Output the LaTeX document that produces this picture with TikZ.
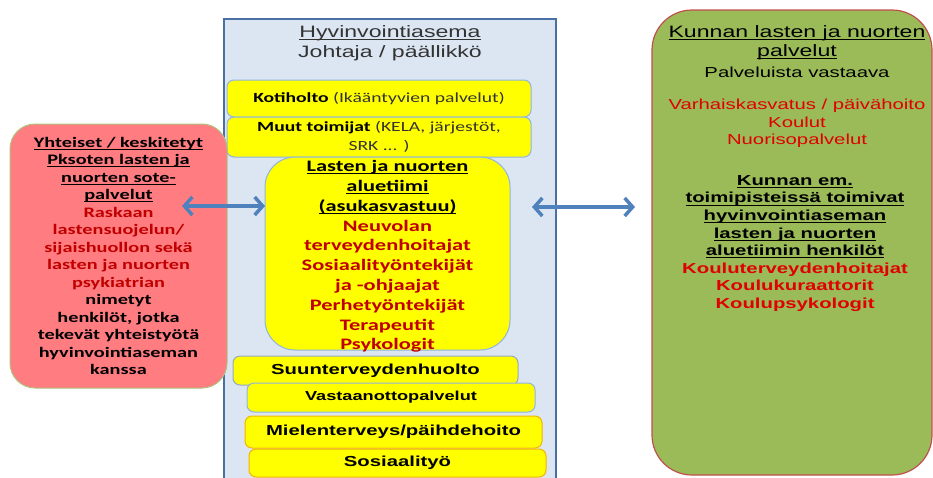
\documentclass[tikz,border=0pt]{standalone}
\usepackage{fontspec}
\setmainfont{Liberation Sans}[FakeStretch=1.4]
\newfontfamily\calfont{Carlito}[FakeStretch=1.4]
\usetikzlibrary{arrows.meta}
\definecolor{boxblue}{HTML}{DCE6F2}
\definecolor{boxblueline}{HTML}{4A6FA5}
\definecolor{pinkfill}{HTML}{FF7C80}
\definecolor{pinkline}{HTML}{AFC27E}
\definecolor{greenfill}{HTML}{9BBB59}
\definecolor{greenline}{HTML}{C0504D}
\definecolor{ylw}{HTML}{FFFF00}
\definecolor{ylwblue}{HTML}{8DB4E2}
\definecolor{ylwgray}{HTML}{95A8C0}
\definecolor{ylworange}{HTML}{F5B400}
\definecolor{txtred}{HTML}{C00000}
\definecolor{txtbright}{HTML}{E00000}
\definecolor{arrowblue}{HTML}{4F81BD}
\definecolor{txtgray}{HTML}{333333}
\newcommand{\rd}[1]{\textcolor{txtred}{#1}}
\newcommand{\brd}[1]{\textcolor{txtbright}{#1}}
\newcommand{\uln}[1]{\setbox0\hbox{#1}\rlap{\rule[-2.3pt]{\wd0}{0.65pt}}\box0}
\begin{document}
\begin{tikzpicture}[x=1pt,y=-1pt,
  panel/.style={rectangle, inner sep=0pt, outer sep=0pt, align=center},
  ybox/.style={panel, fill=ylw, rounded corners=7pt, line width=1pt},
  txt/.style={inner sep=0pt, outer sep=0pt, align=center},
  biarrow/.style={draw=arrowblue, line width=3.5pt,
    {Straight Barb[length=8pt,width=18pt]}-{Straight Barb[length=8pt,width=18pt]}}
]
\useasboundingbox (0,0) rectangle (933,477);

% main station box
\node[panel, draw=boxblueline, fill=boxblue, line width=1.5pt,
  minimum width=332pt, minimum height=471pt] (asema) at (390,254.5) {};
\node[txt, text=txtgray, font=\fontsize{16.5}{20}\selectfont] (otsikko) at (390,43.5)
  {\uln{Hyvinvointiasema}\\ Johtaja / päällikkö};

% yellow boxes
\node[ybox, draw=ylwblue, minimum width=304pt, minimum height=37pt,
  font=\calfont\fontsize{14}{19}\selectfont] (koti) at (379,98.5)
  {\textbf{Kotiholto} \textcolor{black!80}{(Ikääntyvien palvelut)}};
\node[ybox, draw=ylwblue, minimum width=304pt, minimum height=40pt,
  font=\calfont\fontsize{14}{19}\selectfont] (muut) at (379,137)
  {\textbf{Muut toimijat} \textcolor{black!80}{(KELA, järjestöt,}\\ \textcolor{black!80}{SRK ... )}};
\node[ybox, draw=ylwblue, rounded corners=30pt, minimum width=245pt, minimum height=193pt] (tiimi) at (387.5,253.5) {};
\node[txt, font=\calfont\bfseries\fontsize{16}{19.8}\selectfont] (tiimiteksti) at (387.5,256.5)
  {\uln{Lasten ja nuorten}\\ \uln{aluetiimi}\\ \uln{(asukasvastuu)}\\
   \rd{Neuvolan}\\ \rd{terveydenhoitajat}\\ \rd{Sosiaalityöntekijät}\\ \rd{ja -ohjaajat}\\
   \rd{Perhetyöntekijät}\\ \rd{Terapeutit}\\ \rd{Psykologit}};

\node[ybox, draw=ylwgray, minimum width=285pt, minimum height=29pt,
  font=\bfseries\fontsize{14.5}{17}\selectfont] (suun) at (375.5,370.5) {Suunterveydenhuolto};
\node[ybox, draw=ylwblue, minimum width=288pt, minimum height=29pt,
  font=\bfseries\fontsize{13}{16}\selectfont] (vasta) at (391,397.5) {Vastaanottopalvelut};
\node[ybox, draw=ylworange, minimum width=297pt, minimum height=32pt,
  font=\bfseries\fontsize{14.5}{17}\selectfont] (mielen) at (393.5,432) {Mielenterveys/päihdehoito};
\node[ybox, draw=ylworange, minimum width=297pt, minimum height=28pt,
  font=\bfseries\fontsize{14.5}{17}\selectfont] (sosiaali) at (397.5,463) {Sosiaalityö};

% left pink box
\node[panel, draw=pinkline, fill=pinkfill, line width=1pt, rounded corners=25pt,
  minimum width=217pt, minimum height=264pt,
  font=\calfont\bfseries\fontsize{14.5}{17.5}\selectfont] (yhteiset) at (118.5,256)
  {\uln{Yhteiset / keskitetyt}\\ \uln{Pksoten lasten ja}\\ \uln{nuorten sote-}\\ \uln{palvelut}\\
   \rd{Raskaan}\\ \rd{lastensuojelun/}\\ \rd{sijaishuollon sekä}\\ \rd{lasten ja nuorten}\\ \rd{psykiatrian}\\
   nimetyt\\ henkilöt, jotka\\ tekevät yhteistyötä\\ hyvinvointiaseman\\ kanssa};

% right green box
\node[panel, draw=greenline, fill=greenfill, line width=1.2pt, rounded corners=40pt,
  minimum width=280pt, minimum height=465pt] (kunta) at (792,242.5) {};
\node[txt, font=\fontsize{16.5}{19}\selectfont] (k1) at (797,42.5)
  {\uln{Kunnan lasten ja nuorten}\\ \uln{palvelut}};
\node[txt, font=\fontsize{14.5}{17.5}\selectfont] (k2) at (797,72) {Palveluista vastaava};
\node[txt, font=\fontsize{14.5}{17.5}\selectfont] (k3) at (797,123.5)
  {\brd{Varhaiskasvatus / päivähoito}\\ \brd{Koulut}\\ \brd{Nuorisopalvelut}};
\node[txt, font=\bfseries\fontsize{14.5}{17.6}\selectfont] (k4) at (795,243.5)
  {\uln{Kunnan em.}\\ \uln{toimipisteissä toimivat}\\ \uln{hyvinvointiaseman}\\
   \uln{lasten ja nuorten}\\ \uln{aluetiimin henkilöt}\\
   \brd{Kouluterveydenhoitajat}\\ \brd{Koulukuraattorit}\\ \brd{Koulupsykologit}};

% arrows
\coordinate (la) at (182,206);
\coordinate (ra) at (532,207);
\coordinate (rb) at (635,207);
\draw[biarrow] (la) -- (tiimi.west |- la);
\draw[biarrow] (ra) -- (rb);
\end{tikzpicture}
\end{document}
